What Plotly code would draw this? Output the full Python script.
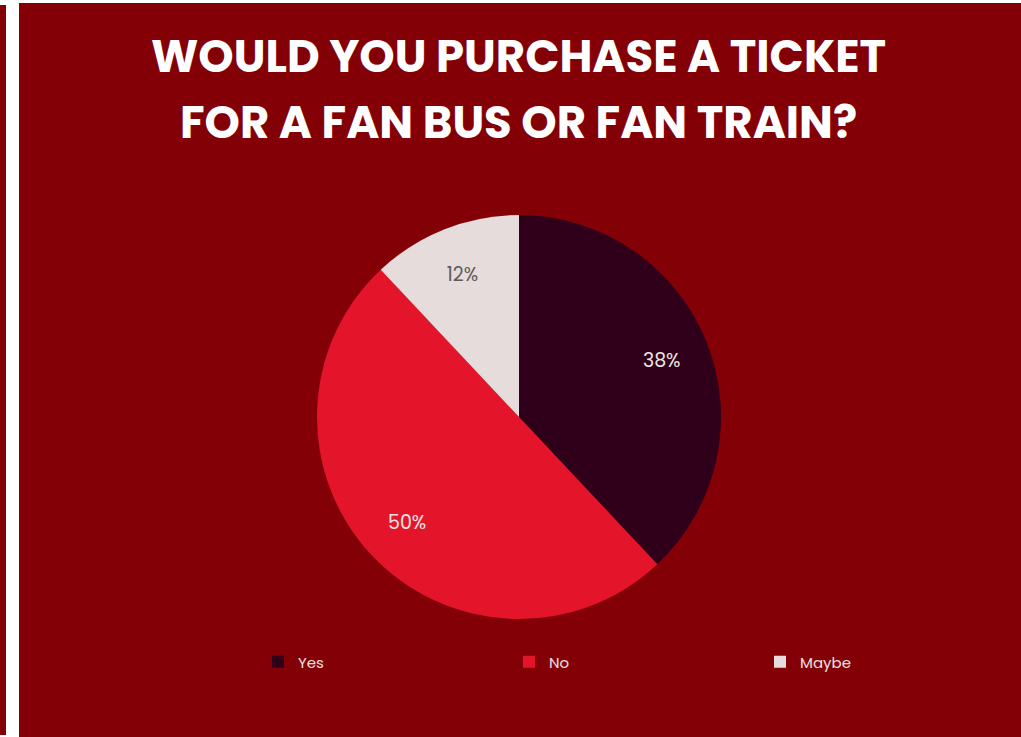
import plotly.graph_objects as go

categories = ["Yes", "No", "Maybe"]
values = [38, 50, 12]
slice_colors = ["#30001a", "#e4152b", "#e6dcdc"]
label_colors = ["#efe6e6", "#efe6e6", "#5e5a5a"]
title_lines = ["WOULD YOU PURCHASE A TICKET", "FOR A FAN BUS OR FAN TRAIN?"]

W, H = 1021, 737
BG = "#840007"
dom = dict(x=[(519 - 202) / W, (519 + 202) / W], y=[1 - 619 / H, 1 - 215 / H])

fig = go.Figure()
fig.add_trace(go.Pie(
    labels=categories,
    values=values,
    sort=False,
    direction="clockwise",
    rotation=0,
    marker=dict(colors=slice_colors, line=dict(width=0)),
    textinfo="none",
    domain=dom,
    hoverinfo="label+percent",
))
# transparent ring overlay carrying the percentage labels further out
fig.add_trace(go.Pie(
    labels=categories,
    values=values,
    sort=False,
    direction="clockwise",
    rotation=0,
    hole=0.52,
    marker=dict(colors=["rgba(0,0,0,0)"] * 3, line=dict(width=0)),
    texttemplate="%{percent:.0%}",
    textposition="inside",
    insidetextorientation="horizontal",
    textfont=dict(family="Poppins, Lato, sans-serif", size=19, color=label_colors),
    domain=dom,
    hoverinfo="skip",
    showlegend=False,
))

shapes = [
    dict(type="rect", xref="paper", yref="paper", x0=6 / W, x1=19 / W, y0=0, y1=1,
         fillcolor="white", line=dict(width=0), layer="above"),
    dict(type="rect", xref="paper", yref="paper", x0=0, x1=1, y0=1 - 3 / H, y1=1,
         fillcolor="white", line=dict(width=0), layer="above"),
    dict(type="rect", xref="paper", yref="paper", x0=0, x1=6 / W, y0=1 - 5 / H, y1=1,
         fillcolor="white", line=dict(width=0), layer="above"),
    dict(type="rect", xref="paper", yref="paper", x0=0, x1=6 / W, y0=0, y1=2 / H,
         fillcolor="white", line=dict(width=0), layer="above"),
]

annotations = []
for i, line in enumerate(title_lines):
    annotations.append(dict(
        text=line, xref="paper", yref="paper", x=518 / W, y=1 - (57 + 65 * i) / H,
        xanchor="center", yanchor="middle", showarrow=False,
        font=dict(family="Poppins, Open Sans, sans-serif", size=45, color="white", weight=700),
    ))

fig.update_layout(
    width=W, height=H,
    margin=dict(l=0, r=0, t=0, b=0),
    paper_bgcolor=BG,
    plot_bgcolor=BG,
    shapes=shapes,
    annotations=annotations,
    showlegend=True,
    legend=dict(
        orientation="h",
        x=258 / W, xanchor="left",
        y=1 - 662 / H, yanchor="middle",
        entrywidth=206, entrywidthmode="pixels",
        font=dict(family="Poppins, Lato, sans-serif", size=15, color="#e8e0e0"),
        bgcolor="rgba(0,0,0,0)",
    ),
)

fig.write_html("out.html", config={"displayModeBar": False},
               post_script="document.body.style.margin='0';document.body.style.overflow='hidden';")
